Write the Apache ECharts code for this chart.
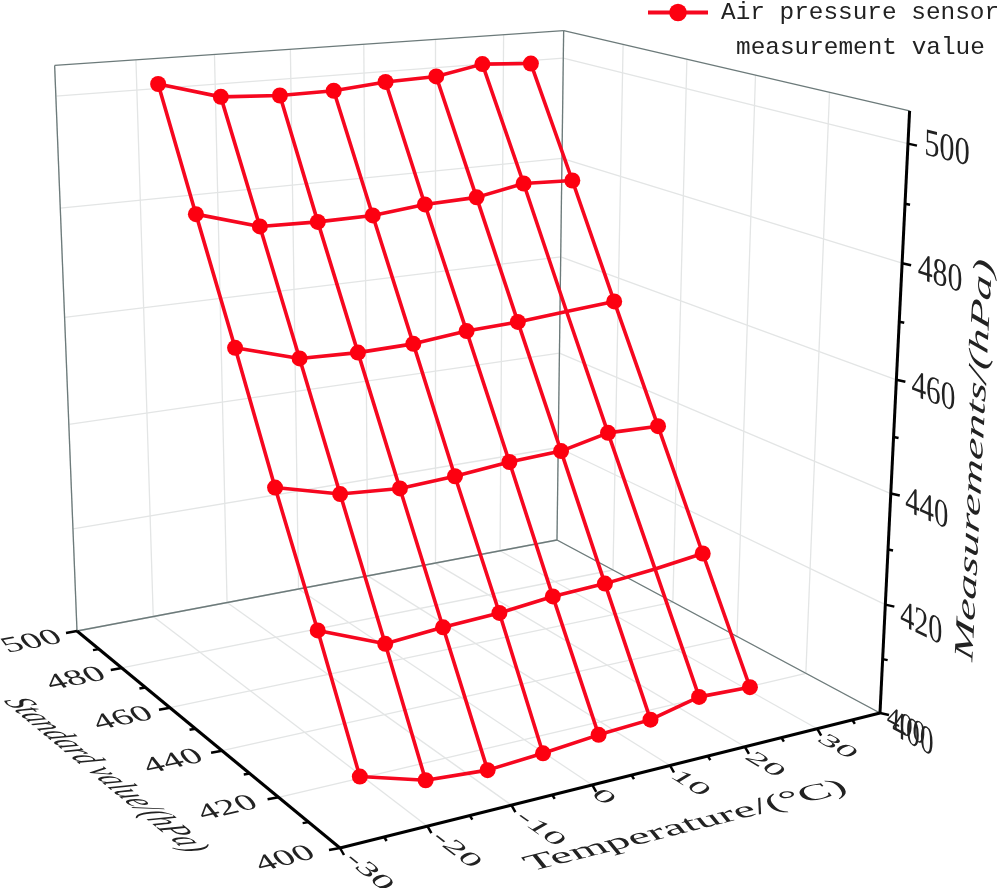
<!DOCTYPE html><html><head><meta charset="utf-8"><style>html,body{margin:0;background:#fff}#c{width:1005px;height:888px}</style></head><body><div id="c"></div>
<script src="https://cdn.jsdelivr.net/npm/echarts@6/dist/echarts.min.js"></script>
<script>
// ---- chart data ----
const seriesName = 'Air pressure sensor measurement value';
const legendLines = ['Air pressure sensor', 'measurement value'];
const standardValues = [400, 420, 440, 460, 480, 500];
const temperatureRows = [
  [-27.7, -20.2, -12.9, -6.2, 0.7, 7.3, 13.6, 20.4],
  [-25.2, -17.3, -10.3, -3.3, 3.5, 10.3, 17.0, 23.5],
  [-23.1, -15.3, -7.9, -0.9, 6.2, 13.1, 19.5, 26.5],
  [-21.0, -13.1, -5.7, 1.5, 8.6, 15.6, 22.4, 29.2],
  [-19.1, -11.1, -3.6, 3.7, 10.8, 18.0, 24.7, 31.8],
  [-17.3, -9.3, -1.5, 5.8, 13.0, 20.2, 26.9, 34.1]
];
const measurementRows = [
  [411.0, 407.8, 407.0, 407.6, 408.5, 409.0, 411.0, 410.6],
  [426.9, 422.3, 423.1, 423.6, 424.6, 425.0, 425.8, 426.9],
  [444.1, 441.1, 440.3, 440.8, 441.7, 442.1, 444.0, 443.7],
  [462.4, 459.0, 458.6, 458.8, 459.8, 460.2, 460.9, 461.6],
  [481.2, 477.8, 477.5, 477.6, 478.6, 478.9, 480.6, 480.2],
  [500.8, 497.6, 497.0, 497.1, 498.0, 498.3, 500.0, 499.4]
];
// [row, column] of crossings drawn without a marker
const unmarkedPoints = [[1, 6], [3, 6]];
const temperatureTicks = [-30, -20, -10, 0, 10, 20, 30];
const temperatureMinor = [-25, -15, -5, 5, 15, 25, 35];
const standardTicks = [400, 420, 440, 460, 480, 500];
const standardMinor = [410, 430, 450, 470, 490];
const measurementTicks = [400, 420, 440, 460, 480, 500];
const measurementMinor = [410, 430, 450, 470, 490];
const temperatureTitle = 'Temperature/(°C)';
const standardTitle = 'Standard value/(hPa)';
const measurementTitle = 'Measurements/(hPa)';

// ---- perspective frame of the 3D box (screen positions of its corners) ----
const Tmin = -30, Tmax = 39, Smin = 400, Smax = 500, Zmin = 400, Zmax = 505.4;
const C = {O:[340,848],U:[880,713],V:[77,631],Q:[557,540],UW:[910,109],QW:[563,28],VW:[55,70]};
const det = (a,b)=>a[0]*b[1]-a[1]*b[0], sub=(a,b)=>[a[0]-b[0],a[1]-b[1]];
const dx1=sub(C.U,C.Q),dx2=sub(C.V,C.Q),s0=[C.O[0]-C.U[0]+C.Q[0]-C.V[0],C.O[1]-C.U[1]+C.Q[1]-C.V[1]];
const D0=det(dx1,dx2),d1=det(s0,dx2)/D0,d2=det(dx1,s0)/D0;
const a1=C.U[0]*(1+d1)-C.O[0],b1=C.U[1]*(1+d1)-C.O[1],a2=C.V[0]*(1+d2)-C.O[0],b2=C.V[1]*(1+d2)-C.O[1],x0=C.O[0],y0=C.O[1];
const X=[],Y=[],RX=[],RY=[];
[[1,0,C.UW],[1,1,C.QW],[0,1,C.VW]].forEach(([u,v,p])=>{const D=1+d1*u+d2*v;X.push(p[0]);Y.push(p[1]);RX.push(p[0]*D-(a1*u+a2*v+x0));RY.push(p[1]*D-(b1*u+b2*v+y0));});
const mean=a=>a.reduce((q,r)=>q+r,0)/a.length;
const mX=mean(X),mY=mean(Y),mRX=mean(RX),mRY=mean(RY);
let num=0,den=0;X.forEach((_,i)=>{num+=(X[i]-mX)*(RX[i]-mRX)+(Y[i]-mY)*(RY[i]-mRY);den+=(X[i]-mX)**2+(Y[i]-mY)**2;});
const d3=-num/den,a3=mRX+mX*d3,b3=mRY+mY*d3;
function proj(T,S,Z){const u=(T-Tmin)/(Tmax-Tmin),v=(S-Smin)/(Smax-Smin),w=(Z-Zmin)/(Zmax-Zmin);const h=1+d1*u+d2*v+d3*w;return [(a1*u+a2*v+a3*w+x0)/h,(b1*u+b2*v+b3*w+y0)/h];}
function dir(p,q){const d=sub(q,p),l=Math.hypot(d[0],d[1]);return [d[0]/l,d[1]/l];}
const seg=(p,q)=>({coords:[p,q]});
const shift=(p,o)=>[p[0]+o[0],p[1]+o[1]];

// ---- frame segments ----
const gridSegs=[];
temperatureTicks.forEach(t=>{
  gridSegs.push(seg(proj(t,Smin,Zmin),proj(t,Smax,Zmin)));
  gridSegs.push(seg(proj(t,Smax,Zmin),proj(t,Smax,Zmax)));
});
standardTicks.forEach(s=>{
  gridSegs.push(seg(proj(Tmin,s,Zmin),proj(Tmax,s,Zmin)));
  gridSegs.push(seg(proj(Tmax,s,Zmin),proj(Tmax,s,Zmax)));
});
measurementTicks.forEach(z=>{
  gridSegs.push(seg(proj(Tmin,Smax,z),proj(Tmax,Smax,z)));
  gridSegs.push(seg(proj(Tmax,Smax,z),proj(Tmax,Smin,z)));
});
const boxSegs=[
  seg(proj(Tmin,Smax,Zmin),proj(Tmax,Smax,Zmin)),seg(proj(Tmax,Smax,Zmin),proj(Tmax,Smin,Zmin)),
  seg(proj(Tmax,Smax,Zmin),proj(Tmax,Smax,Zmax)),seg(proj(Tmin,Smax,Zmin),proj(Tmin,Smax,Zmax)),
  seg(proj(Tmin,Smax,Zmax),proj(Tmax,Smax,Zmax)),seg(proj(Tmax,Smax,Zmax),proj(Tmax,Smin,Zmax))
];
const axisSegs=[
  seg(proj(Tmin,Smin,Zmin),proj(Tmax,Smin,Zmin)),
  seg(proj(Tmin,Smin,Zmin),proj(Tmin,Smax,Zmin)),
  seg(proj(Tmax,Smin,Zmin),proj(Tmax,Smin,Zmax))
];
const tickSegs=[];
const addTicks=(vals,at,o)=>vals.forEach(v=>{const p=at(v);tickSegs.push(seg(p,shift(p,o)));});
const atT=t=>proj(t,Smin,Zmin),atS=s=>proj(Tmin,s,Zmin),atZ=z=>proj(Tmax,Smin,z);
addTicks(temperatureTicks,atT,[4,7]);addTicks(temperatureMinor,atT,[2.5,4]);
addTicks(standardTicks,atS,[-11,2]);addTicks(standardMinor,atS,[-6,1]);
addTicks(measurementTicks,atZ,[9,2]);addTicks(measurementMinor,atZ,[5,1]);

// ---- text lying in the box planes ----
const texts=[];
function addText(text,pos,r,up,sw,sh,italic){
  const R=[r[0]*sw,r[1]*sw],D=[-up[0]*sh,-up[1]*sh];
  const th=Math.atan2(R[1],R[0]),e1=[Math.cos(th),Math.sin(th)],e2=[-Math.sin(th),Math.cos(th)];
  const sx=Math.hypot(R[0],R[1]);
  texts.push({text,pos,italic:!!italic,rotation:-th,scaleX:sx,scaleY:D[0]*e2[0]+D[1]*e2[1],
    skewX:Math.atan((D[0]*e1[0]+D[1]*e1[1])/sx)});
}
const stdOffsets=[-55,-51,-49,-47,-46,-45];
standardTicks.forEach((s,i)=>{
  const p=atS(s);
  addText(String(s),shift(p,[stdOffsets[i],11]),dir(p,proj(Tmin+10,s,Zmin)),dir(p,proj(Tmin,s+20,Zmin)),1.6,1.25);
});
temperatureTicks.forEach(t=>{
  const p=atT(t),str=String(t),n=str.length-1;
  addText(str,shift(p,[11+9*n,12+6*n]),dir(p,proj(t,Smin-20,Zmin)),dir(p,proj(t+10,Smin,Zmin)),1.6,1.15);
});
measurementTicks.forEach((z,i)=>{
  const p=atZ(z),o=[[33,22],[36,20],[36,16],[37,13],[38,12],[39,6]][i];
  const r=dir(proj(Tmax,Smin+20,z),p),up=dir(p,proj(Tmax,Smin,z+10));
  addText(String(z),shift(p,o),r,up,1.3,1.6);
  if(i===0) addText(String(z),shift(p,[26,14]),r,up,1.2,1.3);
});
addText(temperatureTitle,[686,826],dir(proj(-30,Smin,Zmin),proj(Tmax,Smin,Zmin)),dir(proj(0,Smin,Zmin),proj(0,Smax,Zmin)),1.94,1.35);
addText(standardTitle,[105,775],dir(proj(Tmin,Smax,Zmin),proj(Tmin,Smin,Zmin)),dir(proj(Tmin,450,Zmin),proj(Tmax,450,Zmin)),1.16,1.55,true);
addText(measurementTitle,[975,460],dir(proj(Tmax,Smin,Zmin),proj(Tmax,Smin,Zmax)),dir(proj(Tmax,Smin,450),proj(Tmax,Smax,450)),2.0,1.2,true);

// ---- marks ----
const pts=temperatureRows.map((row,i)=>row.map((t,j)=>proj(t,standardValues[i],measurementRows[i][j])));
const lineColor='#f6071f';
const rowSeries=pts.map((row,i)=>({
  type:'line',name:seriesName,z:6,silent:true,clip:false,
  data:row.map((p,j)=>unmarkedPoints.some(u=>u[0]===i&&u[1]===j)?{value:p,symbol:'none'}:{value:p}),
  symbol:'circle',symbolSize:16,showSymbol:true,showAllSymbol:true,
  lineStyle:{color:lineColor,width:3.6},itemStyle:{color:'#fd0010'}
}));
const colSeries=pts[0].map((_,j)=>({
  type:'line',name:seriesName,z:5,silent:true,clip:false,
  data:pts.map(r=>r[j]),symbol:'none',showSymbol:false,
  lineStyle:{color:lineColor,width:3.6},itemStyle:{color:'#fd0010'}
}));
const segSeries=(data,color,width,z)=>({type:'lines',coordinateSystem:'cartesian2d',silent:true,z,data,
  lineStyle:{color,width,opacity:1},effect:{show:false}});
const legendFont={fontFamily:'Liberation Mono',fontSize:24.4,lineHeight:35,color:'#222'};
const chart=echarts.init(document.getElementById('c'),null,{renderer:'canvas'});
chart.setOption({
  animation:false,backgroundColor:'#fff',
  grid:{left:0,right:0,top:0,bottom:0},
  xAxis:{type:'value',min:0,max:1005,show:false},
  yAxis:{type:'value',min:0,max:888,inverse:true,show:false},
  tooltip:{show:false},
  legend:{data:[seriesName],left:646,top:-40,padding:0,itemWidth:60,itemHeight:22,itemGap:0,selectedMode:false,
    lineStyle:{width:4},
    formatter:()=>'{e| }\n{a|'+legendLines[0]+'}\n{b|'+legendLines[1]+'}',
    textStyle:{...legendFont,rich:{
      e:{...legendFont},
      a:{...legendFont,padding:[0,0,0,8]},
      b:{...legendFont,padding:[0,0,0,23]}}}},
  series:[
    ...rowSeries,...colSeries,
    segSeries(gridSegs,'#e3e5e5',1.3,1),
    segSeries(boxSegs,'#6c7a7a',1.3,2),
    segSeries(axisSegs,'#000',3,3),
    segSeries(tickSegs,'#000',2.5,3),
    {type:'custom',coordinateSystem:'cartesian2d',silent:true,z:7,clip:false,
     data:texts.map((t,i)=>[t.pos[0],t.pos[1],i]),
     renderItem:(params,api)=>{
       const t=texts[api.value(2)],c=api.coord([api.value(0),api.value(1)]);
       return {type:'text',x:c[0],y:c[1],rotation:t.rotation,scaleX:t.scaleX,scaleY:t.scaleY,skewX:t.skewX,
         style:{text:t.text,x:0,y:0,fontFamily:'Liberation Serif',fontSize:24,fontStyle:t.italic?'italic':'normal',
           fill:'#222',align:'center',verticalAlign:'middle'}};
     }}
  ]
});
</script></body></html>
